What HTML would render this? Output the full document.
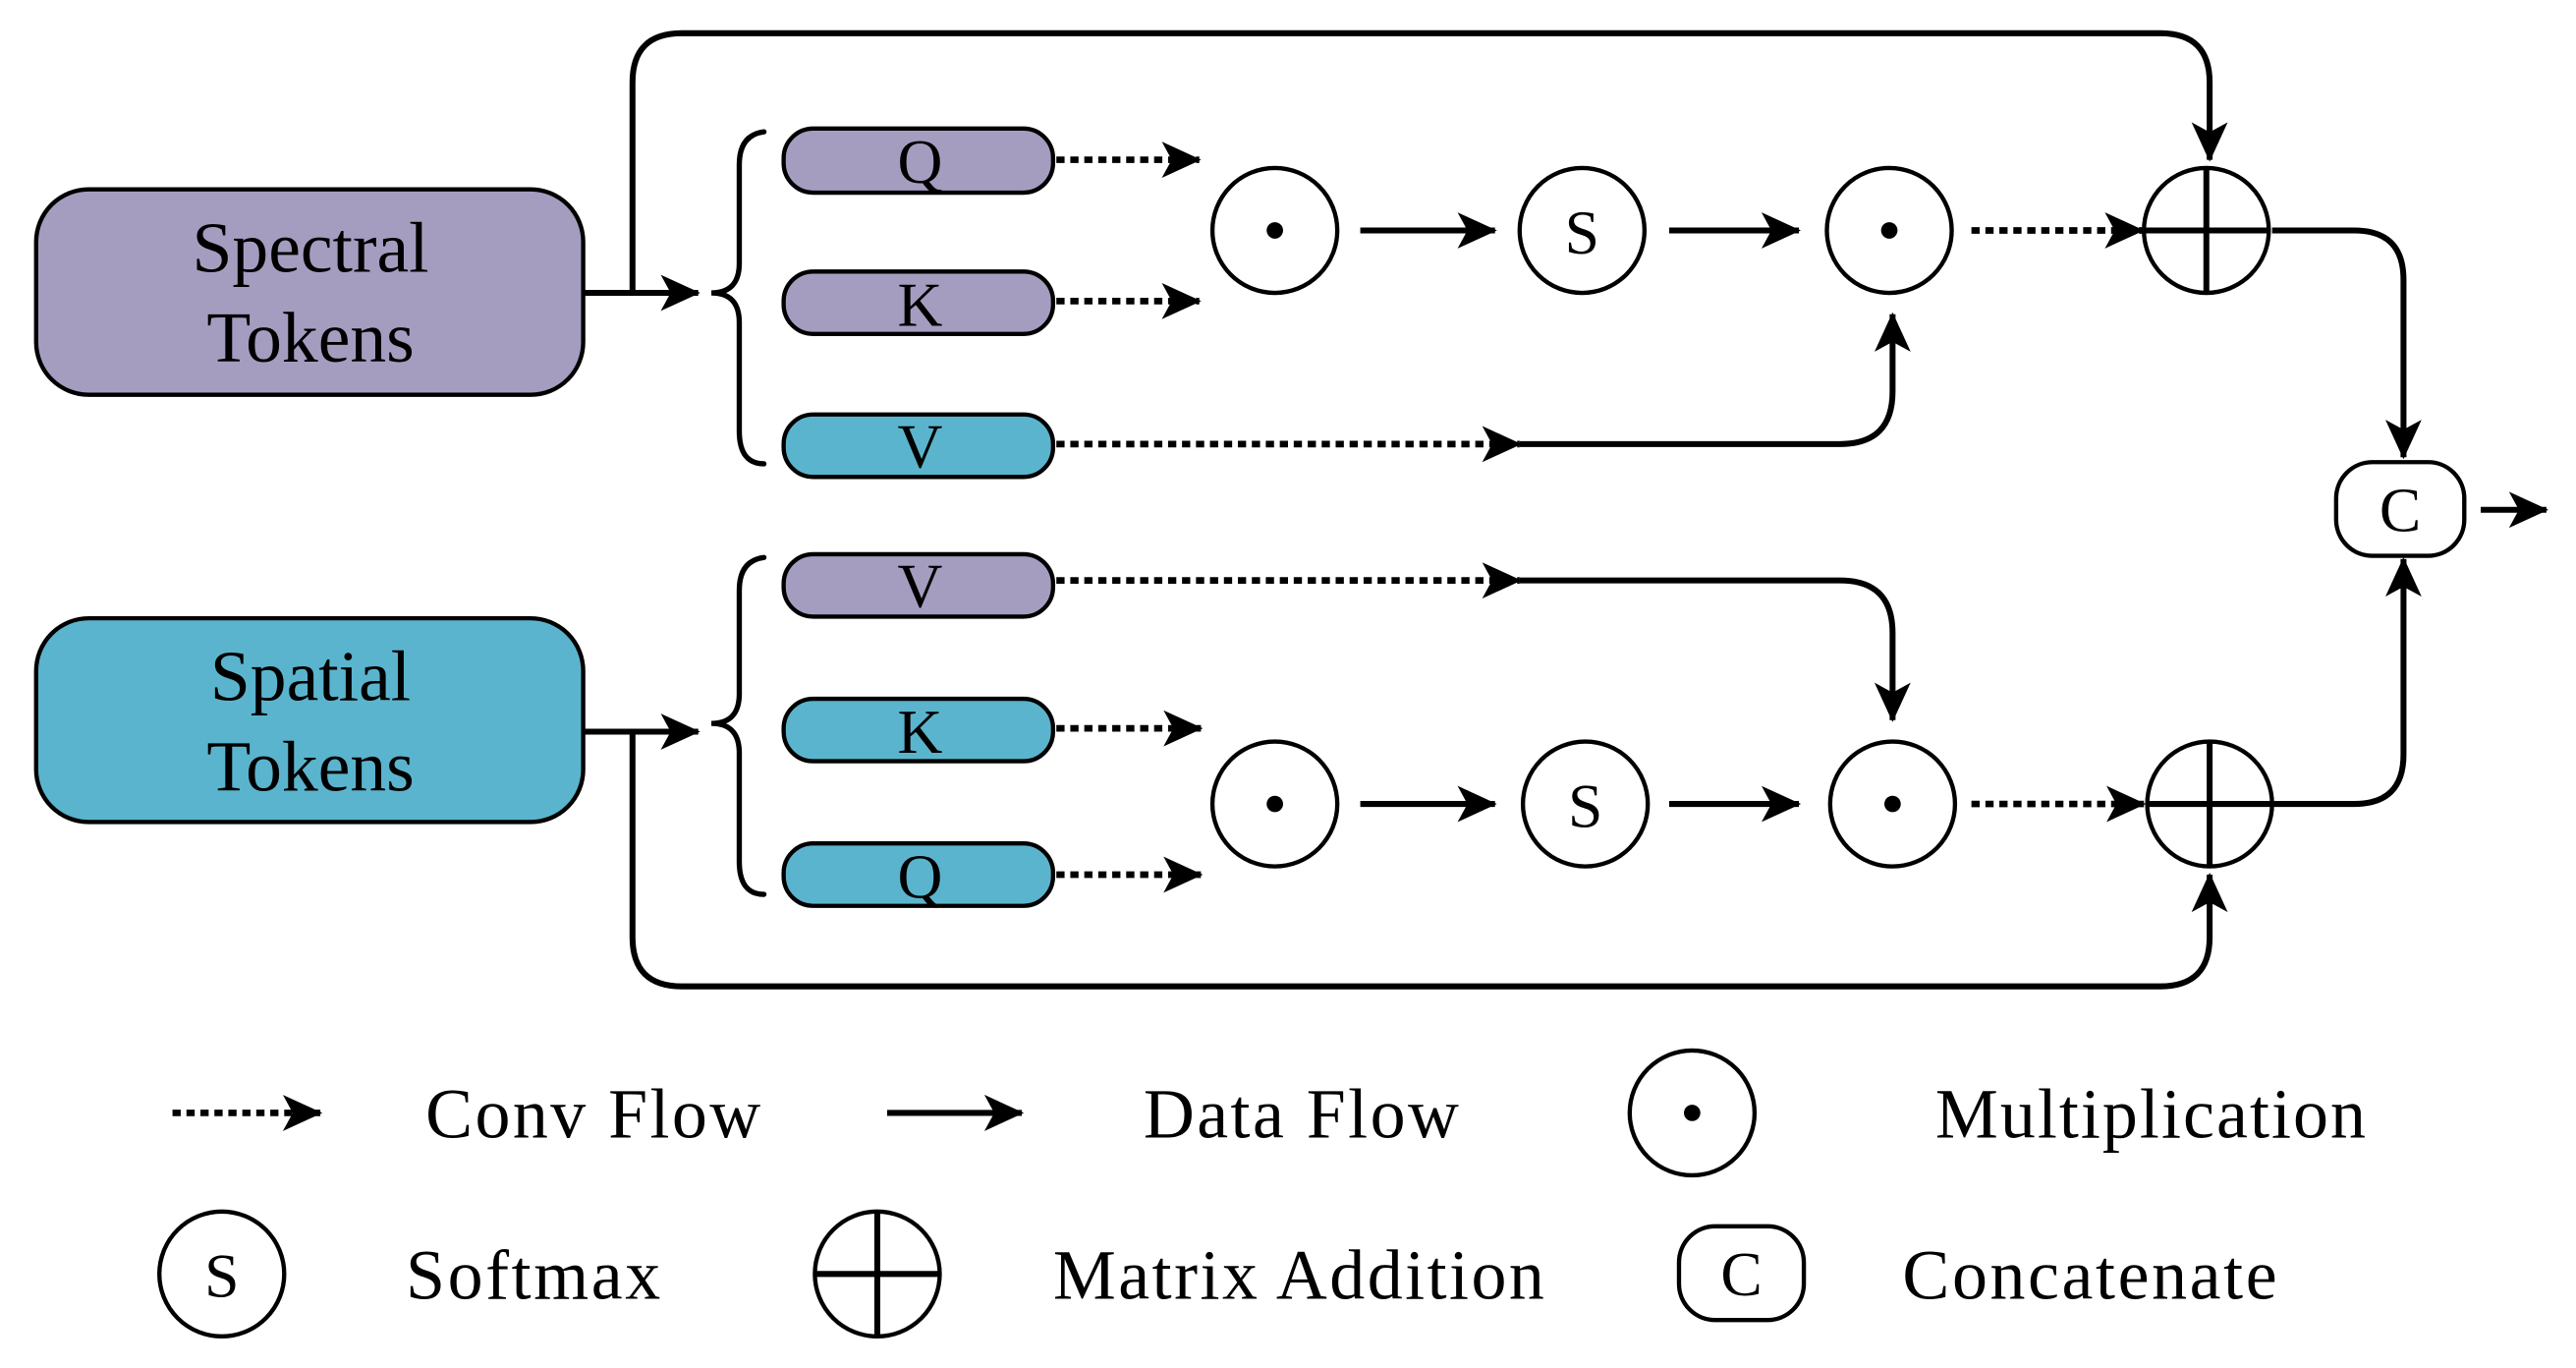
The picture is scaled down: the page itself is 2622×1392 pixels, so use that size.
<!DOCTYPE html>
<html><head><meta charset="utf-8"><style>html,body{margin:0;padding:0;background:#fff}svg{display:block}</style></head>
<body>
<svg width="2622" height="1392" viewBox="0 0 1568 832" xmlns="http://www.w3.org/2000/svg" font-family="Liberation Serif, serif">
<defs>
<marker id="a" viewBox="0 0 10 10" refX="9.5" refY="5" markerWidth="24" markerHeight="22" markerUnits="userSpaceOnUse" orient="auto" preserveAspectRatio="none"><path d="M0,0L10,5L0,10L2.5,5Z"/></marker>
</defs>
<rect width="1568" height="832" fill="#fff"/>
<g stroke="#000" stroke-width="2.6">
<rect x="22" y="115" width="333" height="125" rx="32" fill="#a59dc0"/>
<rect x="22" y="376" width="333" height="124" rx="32" fill="#5bb4cd"/>
<rect x="477" y="78" width="164" height="39" rx="18" fill="#a59dc0"/>
<rect x="477" y="165" width="164" height="38" rx="18" fill="#a59dc0"/>
<rect x="477" y="252" width="164" height="38" rx="18" fill="#5bb4cd"/>
<rect x="477" y="337" width="164" height="38" rx="18" fill="#a59dc0"/>
<rect x="477" y="425" width="164" height="38" rx="18" fill="#5bb4cd"/>
<rect x="477" y="513" width="164" height="38" rx="18" fill="#5bb4cd"/>
</g>
<g fill="none" stroke="#000" stroke-width="3.2" stroke-linecap="round">
<path d="M465,80 Q450,82 450,100 V160 Q450,178 433,178 Q450,178 450,196 V262 Q450,282 465,282"/>
<path d="M465,339 Q450,341 450,359 V422 Q450,440 433,440 Q450,440 450,458 V524 Q450,544 465,544"/>
</g>
<g fill="none" stroke="#000" stroke-width="3.6">
<path d="M355,178 H425" marker-end="url(#a)"/>
<path d="M385,178 V50 Q385,20 415,20 H1315 Q1345,20 1345,50 V97" marker-end="url(#a)"/>
<path d="M355,445 H425" marker-end="url(#a)"/>
<path d="M385,445 V570 Q385,600 415,600 H1315 Q1345,600 1345,570 V532" marker-end="url(#a)"/>
<path d="M828,140 H910" marker-end="url(#a)"/><path d="M1016,140 H1095" marker-end="url(#a)"/>
<path d="M828,489 H910" marker-end="url(#a)"/><path d="M1016,489 H1095" marker-end="url(#a)"/>
<path d="M925,270 H1120 Q1152,270 1152,238 V191" marker-end="url(#a)"/>
<path d="M925,353 H1120 Q1152,353 1152,385 V438" marker-end="url(#a)"/>
<path d="M1383,140 H1433 Q1463,140 1463,170 V278" marker-end="url(#a)"/>
<path d="M1383,489 H1433 Q1463,489 1463,459 V340" marker-end="url(#a)"/>
<path d="M1510,310 H1550" marker-end="url(#a)"/>
<path d="M540,677 H622" marker-end="url(#a)"/>
</g>
<g fill="none" stroke="#000" stroke-width="4" stroke-dasharray="5,3.5">
<path d="M643,97 H730" marker-end="url(#a)"/>
<path d="M643,183 H730" marker-end="url(#a)"/>
<path d="M643,270 H925" marker-end="url(#a)"/>
<path d="M643,353 H925" marker-end="url(#a)"/>
<path d="M643,443 H731" marker-end="url(#a)"/>
<path d="M643,532 H731" marker-end="url(#a)"/>
<path d="M1200,140 H1304" marker-end="url(#a)"/>
<path d="M1200,489 H1305" marker-end="url(#a)"/>
<path d="M105,677 H195" marker-end="url(#a)"/>
</g>
<g fill="#fff" stroke="#000" stroke-width="2.6">
<circle cx="776" cy="140" r="38"/><circle cx="963" cy="140" r="38"/><circle cx="1150" cy="140" r="38"/><circle cx="1343" cy="140" r="38"/>
<circle cx="776" cy="489" r="38"/><circle cx="965" cy="489" r="38"/><circle cx="1152" cy="489" r="38"/><circle cx="1345" cy="489" r="38"/>
<rect x="1422" y="281" width="78" height="57" rx="22"/>
<circle cx="1030" cy="677" r="38"/><circle cx="135" cy="775" r="38"/><circle cx="534" cy="775" r="38"/>
<rect x="1022" y="746" width="76" height="57" rx="22"/>
</g>
<g stroke="#000" stroke-width="3.6">
<path d="M1305,140H1381M1343,102V178"/><path d="M1307,489H1383M1345,451V527"/><path d="M496,775H572M534,737V813"/>
</g>
<g fill="#000"><circle cx="776" cy="140" r="5"/><circle cx="1150" cy="140" r="5"/><circle cx="776" cy="489" r="5"/><circle cx="1152" cy="489" r="5"/><circle cx="1030" cy="677" r="5"/></g>
<g font-size="44" text-anchor="middle">
<text x="189" y="165">Spectral</text><text x="189" y="220">Tokens</text>
<text x="189" y="426">Spatial</text><text x="189" y="481">Tokens</text>
</g>
<g font-size="38" text-anchor="middle">
<text x="560" y="111">Q</text><text x="560" y="198">K</text><text x="560" y="284">V</text>
<text x="560" y="369">V</text><text x="560" y="458">K</text><text x="560" y="546">Q</text>
<text x="963" y="154">S</text><text x="965" y="503">S</text><text x="1461" y="323">C</text>
<text x="135" y="789">S</text><text x="1060" y="788">C</text>
</g>
<g font-size="43" lengthAdjust="spacing">
<text x="259" y="692" textLength="204">Conv Flow</text><text x="696" y="692" textLength="192">Data Flow</text><text x="1178" y="692" textLength="262">Multiplication</text>
<text x="247" y="790" textLength="155">Softmax</text><text x="641" y="790" textLength="299">Matrix Addition</text><text x="1158" y="790" textLength="228">Concatenate</text>
</g>
</svg>
</body></html>
